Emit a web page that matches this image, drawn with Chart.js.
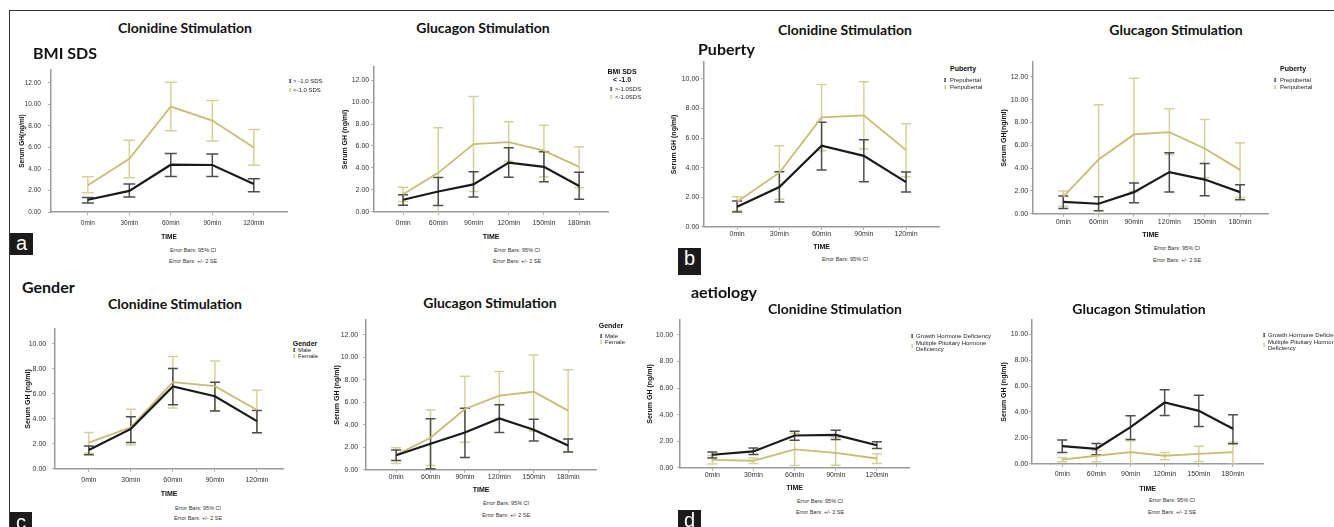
<!DOCTYPE html>
<html>
<head>
<meta charset="utf-8">
<script src="https://cdn.jsdelivr.net/npm/chart.js@4.4.1/dist/chart.umd.min.js"></script>
<style>
  body { margin: 0; background: #fff; }
  #fig { position: relative; width: 1334px; height: 527px; overflow: hidden; font-family: "Liberation Sans", Arial, sans-serif; }
  .frame { position: absolute; left: 9px; top: 10px; width: 1340px; height: 530px; border-top: 1px solid #333; border-left: 1px solid #333; }
  canvas { position: absolute; }
  .t { position: absolute; white-space: nowrap; line-height: 1; }
  .title { font: bold 14px Lato, sans-serif; transform: translate(-50%, -50%); color: #111; }
  .group { font: bold 16px Lato, sans-serif; transform: translateY(-50%); color: #111; }
  .note { font-size: 5.5px; color: #333; transform: translate(-50%, -50%); }
  .lg { font-size: 6px; color: #222; transform: translateY(-50%); }
  .lgt { font-weight: bold; font-size: 7px; color: #111; transform: translate(-50%, -50%); }
  .ic { font: bold 7px "Liberation Serif", serif; transform: translate(-50%, -50%); }
  .tag { position: absolute; background: #1b1b1b; color: #fff; font: 20px "Liberation Sans", Arial, sans-serif; text-align: center; overflow: hidden; }
</style>
</head>
<body>
<div id="fig"><div class="frame"></div></div>
<script>
// categories
const clonidineTimes = ['0min', '30min', '60min', '90min', '120min'];
const glucagonTimes = ['0min', '60min', '90min', '120min', '150min', '180min'];
const ticksTo12 = [0, 2, 4, 6, 8, 10, 12];
const ticksTo10 = [0, 2, 4, 6, 8, 10];

// a: BMI SDS
const bmiLabels = ['> -1.0 SDS', '<-1.0 SDS'];
const bmiGlucLabels = ['>-1.0SDS', '<-1.0SDS'];
const bmiClonAboveMean = [1.15, 1.97, 4.40, 4.37, 2.60];
const bmiClonAboveLow = [0.85, 1.40, 3.30, 3.30, 1.90];
const bmiClonAboveHigh = [1.35, 2.60, 5.45, 5.40, 3.10];
const bmiClonBelowMean = [2.50, 4.95, 9.80, 8.50, 6.00];
const bmiClonBelowLow = [1.80, 3.20, 7.55, 6.60, 4.36];
const bmiClonBelowHigh = [3.27, 6.67, 12.05, 10.35, 7.67];
const bmiGlucAboveMean = [1.10, 1.85, 2.50, 4.48, 4.10, 2.36];
const bmiGlucAboveLow = [0.60, 0.58, 1.36, 3.15, 2.73, 1.15];
const bmiGlucAboveHigh = [1.55, 3.12, 3.64, 5.85, 5.48, 3.60];
const bmiGlucBelowMean = [1.60, 3.55, 6.18, 6.36, 5.58, 4.10];
const bmiGlucBelowLow = [0.94, -0.57, 1.85, 4.60, 3.20, 2.20];
const bmiGlucBelowHigh = [2.24, 7.67, 10.50, 8.20, 7.90, 5.94];

// b: Puberty
const pubertyLabels = ['Prepubertal', 'Peripubertal'];
const pubClonPreMean = [1.35, 2.69, 5.49, 4.80, 3.02];
const pubClonPreLow = [1.00, 1.67, 3.84, 3.05, 2.35];
const pubClonPreHigh = [1.75, 3.72, 7.07, 5.89, 3.70];
const pubClonPeriMean = [1.70, 3.66, 7.40, 7.54, 5.19];
const pubClonPeriLow = [1.08, 1.87, 5.15, 5.26, 3.39];
const pubClonPeriHigh = [2.03, 5.49, 9.62, 9.82, 6.98];
const pubGlucPreMean = [1.05, 0.88, 1.90, 3.65, 3.00, 1.90];
const pubGlucPreLow = [0.47, 0.26, 0.96, 1.90, 1.58, 1.23];
const pubGlucPreHigh = [1.55, 1.49, 2.69, 5.34, 4.41, 2.54];
const pubGlucPeriMean = [1.49, 4.76, 6.95, 7.15, 5.72, 3.85];
const pubGlucPeriLow = [0.67, -0.03, 1.93, 5.20, 3.15, 1.43];
const pubGlucPeriHigh = [1.99, 9.55, 11.88, 9.20, 8.26, 6.22];

// c: Gender
const genderLabels = ['Male', 'Female'];
const genClonMaleMean = [1.51, 3.19, 6.58, 5.80, 3.81];
const genClonMaleLow = [1.12, 2.11, 5.12, 4.62, 2.87];
const genClonMaleHigh = [1.83, 4.15, 8.02, 6.92, 4.65];
const genClonFemaleMean = [2.09, 3.32, 6.92, 6.60, 4.70];
const genClonFemaleLow = [1.25, 1.90, 4.86, 4.65, 2.87];
const genClonFemaleHigh = [2.90, 4.75, 8.96, 8.62, 6.27];
const genGlucMaleMean = [1.29, 2.32, 3.32, 4.56, 3.56, 2.15];
const genGlucMaleLow = [0.82, 0.09, 1.09, 3.32, 2.56, 1.59];
const genGlucMaleHigh = [1.76, 4.53, 5.47, 5.79, 4.50, 2.74];
const genGlucFemaleMean = [1.32, 2.85, 5.41, 6.59, 6.94, 5.26];
const genGlucFemaleLow = [0.56, 0.38, 2.44, 4.56, 3.44, 1.62];
const genGlucFemaleHigh = [1.97, 5.32, 8.32, 8.74, 10.20, 8.90];

// d: aetiology
const aetiologyLabels = ['Growth Hormone Deficiency', 'Multiple Pituitary Hormone', 'Deficiency'];
const aetClonGhdMean = [0.98, 1.23, 2.43, 2.48, 1.70];
const aetClonGhdLow = [0.73, 1.00, 2.08, 2.13, 1.45];
const aetClonGhdHigh = [1.18, 1.48, 2.75, 2.83, 1.95];
const aetClonMphdMean = [0.60, 0.53, 1.38, 1.13, 0.70];
const aetClonMphdLow = [0.28, 0.33, 0.18, 0.20, 0.33];
const aetClonMphdHigh = [0.93, 0.73, 2.60, 2.30, 1.05];
const aetGlucGhdMean = [1.36, 1.16, 2.83, 4.73, 4.09, 2.70];
const aetGlucGhdLow = [0.87, 0.69, 1.88, 3.73, 2.88, 1.54];
const aetGlucGhdHigh = [1.83, 1.57, 3.70, 5.71, 5.30, 3.78];
const aetGlucMphdMean = [0.33, 0.62, 0.90, 0.62, 0.77, 0.90];
const aetGlucMphdLow = [0.15, 0.15, -0.05, 0.31, 0.18, -0.05];
const aetGlucMphdHigh = [0.49, 1.05, 1.77, 0.87, 1.36, 1.67];

const BLACK = '#1a1a1a', BLACK_ERR = '#4d4d4d';
const GOLD = '#c8bd6e', GOLD_ERR = '#d8d196';

const fig = document.getElementById('fig');

function addText(cls, text, x, y, color) {
  const el = document.createElement('div');
  el.className = 't ' + cls;
  el.textContent = text;
  el.style.left = x + 'px';
  el.style.top = y + 'px';
  if (color) el.style.color = color;
  fig.appendChild(el);
}

function addTag(letter, x, y, w, h) {
  const el = document.createElement('div');
  el.className = 'tag';
  el.textContent = letter;
  Object.assign(el.style, { left: x + 'px', top: y + 'px', width: w + 'px', height: h + 'px', lineHeight: '20px' });
  fig.appendChild(el);
}

// draws the SPSS style error bars from errLow / errHigh of each dataset
const errorBars = {
  id: 'errorBars',
  beforeDatasetsDraw(chart, args, opts) {
    const { ctx, chartArea, scales: { x, y } } = chart;
    ctx.save();
    ctx.beginPath();
    ctx.rect(chartArea.left, chartArea.top, chartArea.width, chartArea.height);
    ctx.clip();
    const cap = opts.cap || 5;
    chart.data.datasets.slice().reverse().forEach(ds => {
      ctx.strokeStyle = ds.errColor;
      ctx.lineWidth = 1.5;
      ds.data.forEach((pt, i) => {
        const px = x.getPixelForValue(pt.x);
        const lo = y.getPixelForValue(ds.errLow[i]);
        const hi = y.getPixelForValue(ds.errHigh[i]);
        ctx.beginPath();
        ctx.moveTo(px, lo); ctx.lineTo(px, hi);
        ctx.moveTo(px - cap, lo); ctx.lineTo(px + cap, lo);
        ctx.moveTo(px - cap, hi); ctx.lineTo(px + cap, hi);
        ctx.stroke();
      });
    });
    ctx.restore();
  }
};

function drawChart(def) {
  const font = def.font || 7;
  const lh = font * 1.2;
  const padTop = 8, padRight = 6;
  const yW = def.yTitleDist + lh / 2;
  const xH = def.timeOffset + lh / 2;
  const left = def.axisX - yW;
  const top = def.axisTop - padTop;
  const canvas = document.createElement('canvas');
  canvas.width = Math.round(def.axisRight + padRight - left);
  canvas.height = Math.round(def.axisBottom + xH - top);
  canvas.style.left = left + 'px';
  canvas.style.top = top + 'px';
  fig.appendChild(canvas);

  const tickFont = { size: font, family: 'Liberation Sans' };
  const titleFont = { size: font, weight: 'bold', family: 'Liberation Sans' };
  const grid = { drawOnChartArea: false, tickLength: 3, color: '#aaa' };
  const border = { color: '#9a9a9a', width: 1.5 };

  new Chart(canvas, {
    type: 'line',
    data: {
      datasets: def.series.map(s => ({
        data: s.mean.map((v, i) => ({ x: i, y: v })),
        borderColor: s.color,
        borderWidth: s.width,
        pointRadius: 0,
        tension: 0,
        fill: false,
        errLow: s.low,
        errHigh: s.high,
        errColor: s.errColor
      }))
    },
    options: {
      responsive: false,
      animation: false,
      events: [],
      layout: { padding: { top: padTop, right: padRight, left: 0, bottom: 0 } },
      plugins: { legend: { display: false }, tooltip: { enabled: false }, errorBars: { cap: def.cap } },
      scales: {
        x: {
          type: 'linear', min: def.xMin, max: def.xMax,
          afterBuildTicks: sc => { sc.ticks = def.cats.map((_, i) => ({ value: i })); },
          afterFit: sc => { sc.height = xH; },
          ticks: { callback: v => def.cats[v], font: tickFont, color: '#333', padding: def.xTickPad, maxRotation: 0, autoSkip: false },
          grid: grid, border: border,
          title: { display: true, text: 'TIME', font: titleFont, color: '#111', padding: 0 }
        },
        y: {
          type: 'linear', min: 0, max: def.yMax,
          afterBuildTicks: sc => { sc.ticks = def.yTicks.map(v => ({ value: v })); },
          afterFit: sc => { sc.width = yW; },
          ticks: { callback: v => v.toFixed(2), font: tickFont, color: '#333', padding: def.yTickPad },
          grid: grid, border: border,
          title: { display: true, text: def.yTitle, font: titleFont, color: '#111', padding: 0 }
        }
      }
    },
    plugins: [errorBars]
  });
}

function pair(m1, l1, h1, m2, l2, h2) {
  return [
    { mean: m1, low: l1, high: h1, color: BLACK, errColor: BLACK_ERR, width: 2.2 },
    { mean: m2, low: l2, high: h2, color: GOLD, errColor: GOLD_ERR, width: 1.8 }
  ];
}

const chartDefs = [
  { axisX: 51, axisTop: 67, axisBottom: 212, axisRight: 287, yMax: 13.2, yTicks: ticksTo12, cats: clonidineTimes,
    xMin: -0.89, xMax: 4.8, yTitle: 'Serum GH(ng/ml)', yTitleDist: 29, timeOffset: 25, xTickPad: 4, yTickPad: 7, cap: 6, font: 6.5,
    series: pair(bmiClonAboveMean, bmiClonAboveLow, bmiClonAboveHigh, bmiClonBelowMean, bmiClonBelowLow, bmiClonBelowHigh) },
  { axisX: 374, axisTop: 67, axisBottom: 212, axisRight: 608, yMax: 13.2, yTicks: ticksTo12, cats: glucagonTimes,
    xMin: -0.82, xMax: 5.82, yTitle: 'Serum GH (ng/ml)', yTitleDist: 29, timeOffset: 25, xTickPad: 4, yTickPad: 2, cap: 5,
    series: pair(bmiGlucAboveMean, bmiGlucAboveLow, bmiGlucAboveHigh, bmiGlucBelowMean, bmiGlucBelowLow, bmiGlucBelowHigh) },
  { axisX: 704, axisTop: 62, axisBottom: 227, axisRight: 939, yMax: 11.15, yTicks: ticksTo10, cats: clonidineTimes,
    xMin: -0.78, xMax: 4.78, yTitle: 'Serum GH (ng/ml)', yTitleDist: 30, timeOffset: 20, xTickPad: 0, yTickPad: 2, cap: 5,
    series: pair(pubClonPreMean, pubClonPreLow, pubClonPreHigh, pubClonPeriMean, pubClonPeriLow, pubClonPeriHigh) },
  { axisX: 1033, axisTop: 62, axisBottom: 214, axisRight: 1268, yMax: 13.3, yTicks: ticksTo12, cats: glucagonTimes,
    xMin: -0.85, xMax: 5.79, yTitle: 'Serum GH(ng/ml)', yTitleDist: 29, timeOffset: 21, xTickPad: 1, yTickPad: 2, cap: 5,
    series: pair(pubGlucPreMean, pubGlucPreLow, pubGlucPreHigh, pubGlucPeriMean, pubGlucPeriLow, pubGlucPeriHigh) },
  { axisX: 55, axisTop: 327, axisBottom: 469, axisRight: 283, yMax: 11.15, yTicks: ticksTo10, cats: clonidineTimes,
    xMin: -0.8, xMax: 4.62, yTitle: 'Serum GH (ng/ml)', yTitleDist: 27, timeOffset: 25, xTickPad: 4, yTickPad: 6, cap: 5,
    series: pair(genClonMaleMean, genClonMaleLow, genClonMaleHigh, genClonFemaleMean, genClonFemaleLow, genClonFemaleHigh) },
  { axisX: 366, axisTop: 319, axisBottom: 470, axisRight: 596, yMax: 13.3, yTicks: ticksTo12, cats: glucagonTimes,
    xMin: -0.87, xMax: 5.81, yTitle: 'Serum GH (ng/ml)', yTitleDist: 29, timeOffset: 20, xTickPad: 0, yTickPad: 5, cap: 5,
    series: pair(genGlucMaleMean, genGlucMaleLow, genGlucMaleHigh, genGlucFemaleMean, genGlucFemaleLow, genGlucFemaleHigh) },
  { axisX: 680, axisTop: 320, axisBottom: 468, axisRight: 909, yMax: 11.1, yTicks: ticksTo10, cats: clonidineTimes,
    xMin: -0.78, xMax: 4.78, yTitle: 'Serum GH (ng/ml)', yTitleDist: 30, timeOffset: 20, xTickPad: 0, yTickPad: 4, cap: 5,
    series: pair(aetClonGhdMean, aetClonGhdLow, aetClonGhdHigh, aetClonMphdMean, aetClonMphdLow, aetClonMphdHigh) },
  { axisX: 1032, axisTop: 320, axisBottom: 464, axisRight: 1263, yMax: 11.1, yTicks: ticksTo10, cats: glucagonTimes,
    xMin: -0.88, xMax: 5.88, yTitle: 'Serum GH (ng/ml)', yTitleDist: 28, timeOffset: 25, xTickPad: 3, yTickPad: 1, cap: 5,
    series: pair(aetGlucGhdMean, aetGlucGhdLow, aetGlucGhdHigh, aetGlucMphdMean, aetGlucMphdLow, aetGlucMphdHigh) }
];

chartDefs.forEach(drawChart);

// chart titles
addText('title', 'Clonidine Stimulation', 185, 27);
addText('title', 'Glucagon Stimulation', 483, 27);
addText('title', 'Clonidine Stimulation', 845, 29);
addText('title', 'Glucagon Stimulation', 1176, 29);
addText('title', 'Clonidine Stimulation', 175, 303);
addText('title', 'Glucagon Stimulation', 490, 302);
addText('title', 'Clonidine Stimulation', 835, 308);
addText('title', 'Glucagon Stimulation', 1139, 308);

// group headings
addText('group', 'BMI SDS', 33, 52);
addText('group', 'Puberty', 698, 48);
addText('group', 'Gender', 22, 286);
addText('group', 'aetiology', 691, 291);

// legends
function legend(title, labels, iconX, textX, ys, titleX, titleY) {
  if (title) title.forEach((t, k) => addText('lgt', t, titleX, titleY + k * 8));
  addText('ic', 'I', iconX, ys[0], BLACK);
  addText('ic', 'I', iconX, ys[1], GOLD);
  addText('lg', labels[0], textX, ys[0]);
  addText('lg', labels[1], textX, ys[1]);
}
legend(null, bmiLabels, 290, 293, [81, 90]);
legend(['BMI SDS', '< -1.0'], bmiGlucLabels, 611, 615, [89, 97], 622, 71);
legend(['Puberty'], pubertyLabels, 945, 950, [80, 87], 963, 68);
legend(['Puberty'], pubertyLabels, 1275, 1280, [80, 87], 1293, 68);
legend(['Gender'], genderLabels, 294, 298, [350, 356], 305, 343);
legend(['Gender'], genderLabels, 601, 605, [336, 342], 611, 325);
[[912, 916, 336], [1264, 1268, 335]].forEach(([ix, tx, y0]) => {
  addText('ic', 'I', ix, y0, BLACK);
  addText('ic', 'I', ix, y0 + 10, GOLD);
  addText('lg', aetiologyLabels[0], tx, y0);
  addText('lg', aetiologyLabels[1], tx, y0 + 7);
  addText('lg', aetiologyLabels[2], tx, y0 + 13);
});

// error bar notes
const ci = 'Error Bars: 95% CI', se = 'Error Bars: +/- 2 SE';
[[193, 251, 262], [517, 251, 262], [1177, 249, 261], [198, 509, 519], [506, 504, 516], [820, 502, 513], [1172, 501, 513]]
  .forEach(([x, y1, y2]) => { addText('note', ci, x, y1); addText('note', se, x, y2); });
addText('note', ci, 845, 260);

// panel letters
addTag('a', 10, 233, 23, 22);
addTag('b', 678, 248, 23, 27);
addTag('c', 10, 512, 22, 15);
addTag('d', 678, 510, 23, 17);
</script>
</body>
</html>
